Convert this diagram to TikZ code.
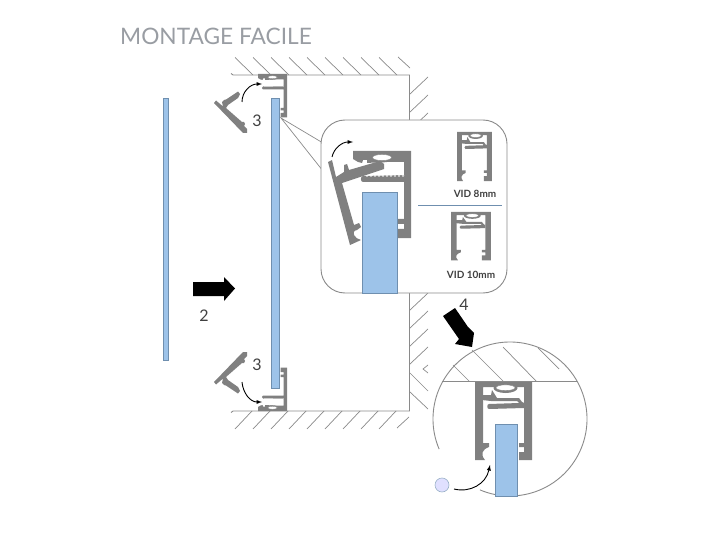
\documentclass[tikz,border=0pt]{standalone}
\usepackage{fontspec}
\setmainfont{Lato}
\usetikzlibrary{positioning,arrows.meta,shapes.geometric}
\definecolor{wallgray}{HTML}{8A8A8A}
\definecolor{railgray}{HTML}{808080}
\definecolor{titlegray}{HTML}{999DA3}
\definecolor{glassblue}{HTML}{9DC3E9}
\definecolor{glassedge}{HTML}{6F8FAF}
\tikzset{
    wall/.style={draw=wallgray, line width=0.9pt},
    hatch/.style={draw=wallgray, line width=0.7pt},
    glass/.style={fill=glassblue, draw=glassedge, line width=0.7pt},
    rail/.style={fill=railgray, draw=none},
    blockarrow/.style={fill=black, draw=none},
    swing/.style={->, >=latex, black, line width=0.9pt},
    step label/.style={font=\fontsize{16}{16}\selectfont, text=black!75},
    vid label/.style={font=\fontsize{10}{10}\selectfont\bfseries, text=black!75, inner sep=0pt},
    % rail with its clip taken away, local units are pixels of the big view
    railopen/.pic={
        \fill[rail] (0,0) -- (58,0) -- (58,87) -- (45,87) -- (45,78) -- (51,78) -- (51,73)
            -- (45,73) -- (45,68) -- (51,68) -- (51,31) -- (10,31)
            to[out=180,in=180,looseness=1.2] (10,25) -- (51,24) -- (51,11) -- (37,11) -- (30,11)
            -- (14,12) -- (14,9) -- (10,9) -- (9,12) -- (5,11) -- (0,8) -- cycle;
        \foreach \x in {14,18,...,50} {
            \fill[white] (\x-1.3,24.4) -- (\x+1.3,24.4) -- (\x,26) -- cycle;
        }
        \fill[rail] (29,6) ellipse [x radius=12, y radius=5.5];
        \fill[white, draw=railgray, line width=0.3pt] (29,6.5) ellipse [x radius=9.5, y radius=3];
    },
    % the clip that swings in, big view
    clipbar/.pic={
        \fill[rail] (0,0) -- (4,-2) -- (8,15) -- (16,10) -- (16,3) -- (19,2) -- (21,8) -- (52,-1)
            -- (56,2) -- (56,7) -- (14,21) -- (26,63) -- (31,61) -- (33,65) -- (29,68)
            to[out=190,in=170,looseness=1.6] (33,78) -- (22,83) -- cycle;
    },
    % same clip, small view
    clipsmall/.pic={
        \fill[rail] (0,0) -- (2,-2.5) -- (9,3.5) -- (8,-1) -- (10,-3) -- (12,-3.5) -- (24,-11.5) -- (26,-9) -- (24,-5)
            -- (14,2) -- (12,5) -- (28,19) -- (30,19) -- (31,21) -- (30,23) -- (33,26) -- (33,30) -- (29,30) -- cycle;
    },
    % rail with the clip in place
    railclosed/.pic={
        \fill[rail] (0,0) -- (57,0) -- (57,78) -- (44,78) -- (44,70) -- (49,70) -- (49,65)
            -- (44,65) -- (44,61) -- (49,61) -- (49,5) -- (8,5) -- (8,61) -- (14,61) -- (14,65)
            to[out=200,in=130,looseness=1.4] (10,78) -- (0,78) -- cycle;
        \fill[rail] (7,13) -- (16,13) -- (17,8) -- (22,16) -- (44,16) -- (47,20) -- (49,21)
            -- (49,19) -- (49,26) -- (14,27) to[out=180,in=180,looseness=1.2] (14,22)
            -- (44,21) -- (42,19) -- (16,19) -- (7,18) -- cycle;
        \fill[rail] (30.5,6) ellipse [x radius=12, y radius=5];
        \fill[white, draw=railgray, line width=0.3pt] (30.5,5.7) ellipse [x radius=9.5, y radius=2.8];
    },
}
\begin{document}
\begin{tikzpicture}[x=1pt, y=-1pt, >=latex]
    \useasboundingbox (0,0) rectangle (720,540);

    \node[anchor=west, inner sep=0pt, text=titlegray, font=\fontsize{22.7}{23}\selectfont] (title) at (120,36) {MONTAGE FACILE};

    % wall
    \draw[wall] (231,73.5) -- (233,75) -- (409.5,75) -- (409.5,411) -- (233,411) -- (231,412.5);
    \foreach \x in {235,253,...,379} {
        \draw[hatch] (\x,57.5) -- (\x+18,75);
    }
    \draw[hatch] (398,57) -- (410,68);
    \foreach \y in {94,112,...,364} {
        \draw[hatch] (410,\y) -- (428,\y-17);
    }
    \draw[hatch] (428,365) -- (423,369) -- (428,373);
    \draw[hatch] (410,373) -- (428,391);
    \draw[hatch] (410,392) -- (428,409);
    \foreach \x in {252,270,...,396} {
        \draw[hatch] (\x,411) -- (\x-17,429);
    }
    \draw[hatch] (409,417) -- (397,428);

    % glass before and after
    \draw[glass] (163,98) rectangle (168.5,360);
    \pic[shift={(258,74)},scale=0.5] {railopen};
    \pic[shift={(258,411)},yscale=-1,scale=0.5] {railopen};
    \draw[glass] (271,98) rectangle (279,388);
    \pic[shift={(214,103)}] {clipsmall};
    \pic[shift={(214,382)},yscale=-1] {clipsmall};

    \coordinate (swingAa) at (242,102);
    \coordinate (swingAb) at (262,84);
    \draw[swing] (swingAa) .. controls (242,92) and (250,84) .. (swingAb);
    \coordinate (swingBa) at (242,382);
    \coordinate (swingBb) at (262,402);
    \draw[swing] (swingBa) .. controls (243,393) and (250,402) .. (swingBb);
    \node[step label] (three top) at (257,121) {3};
    \node[step label] (three bottom) at (257,365) {3};

    \fill[blockarrow] (193,282) -- (224,282) -- (224,277) -- (235,288.5) -- (224,301) -- (224,296) -- (193,296) -- cycle;
    \node[step label] (two) at (204,316) {2};

    % zoomed view
    \coordinate (fantip) at (281,118);
    \coordinate (fanA) at (323,143);
    \coordinate (fanB) at (323,171);
    \draw[hatch] (fanA) -- (fantip) -- (fanB);
    \node[draw=wallgray, fill=white, line width=0.9pt, rounded corners=24pt, minimum width=186pt, minimum height=173pt, inner sep=0pt] (bubble) at (414,206.5) {};
    \pic[shift={(353,151)}] {railopen};
    \pic[shift={(328,162)}] {clipbar};
    \draw[glass] (362,192) rectangle (397,293);
    \coordinate (swingCa) at (332,157);
    \coordinate (swingCb) at (353,142);
    \draw[swing] (swingCa) .. controls (334,148) and (342,142) .. (swingCb);

    \pic[shift={(457,132)},xscale=0.61,yscale=0.63] {railclosed};
    \node[vid label] (vid eight) at (475,194) {VID 8mm};
    \coordinate (sepA) at (418,205);
    \coordinate (sepB) at (502,205);
    \draw[glassedge, line width=0.6pt] (sepA) -- (sepB);
    \pic[shift={(451,212)},xscale=0.70,yscale=0.62] {railclosed};
    \node[vid label] (vid ten) at (471,275) {VID 10mm};

    % finished joint
    \fill[blockarrow] (443,316) -- (455,308) -- (468,327) -- (474,333) -- (472,347) -- (455,344) -- (459,339) -- cycle;
    \node[step label] (four) at (464,305) {4};
    \draw[wall] (510,419) ++(157:77) arc[start angle=157, end angle=473, radius=77];
    \draw[wall] (442,381) -- (577,381);
    \draw[hatch] (472,350) -- (503,381);
    \draw[hatch] (503,347) -- (536,381);
    \draw[hatch] (538,348) -- (559,369);
    \draw[hatch] (453,365) -- (469,381);
    \pic[shift={(475,382)}] {railclosed};
    \draw[glass] (495,424) rectangle (517,496);
    \node[circle, fill=blue!12, draw=glassedge!70, line width=0.6pt, minimum size=14pt, inner sep=0pt] (ball) at (442,485) {};
    \coordinate (swingDa) at (454,489);
    \coordinate (swingDb) at (490,465);
    \draw[swing] (swingDa) .. controls (470,493) and (486,484) .. (swingDb);
\end{tikzpicture}
\end{document}
